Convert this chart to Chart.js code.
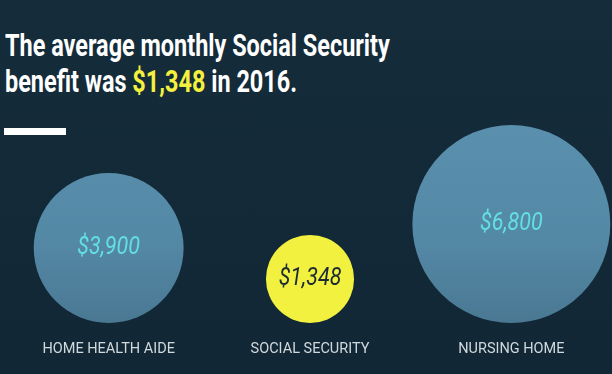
<!DOCTYPE html>
<html>
<head>
<meta charset="utf-8">
<script src="https://cdn.jsdelivr.net/npm/chart.js@4"></script>
<style>
  html, body { margin: 0; padding: 0; }
  body {
    width: 612px; height: 374px; overflow: hidden; position: relative;
    background: linear-gradient(#152c3b, #112735);
  }
  .headline {
    position: absolute; left: 5px; top: 28px;
    font-family: Roboto, "Liberation Sans", sans-serif;
    font-weight: bold; font-size: 31px; line-height: 36px;
    color: #ffffff; white-space: nowrap;
    transform-origin: 0 0; transform: scaleX(0.8);
  }
  .headline .hl { color: #f4f13e; }
  .rule { position: absolute; left: 4px; top: 128px; width: 62px; height: 7px; background: #ffffff; }
  #wrap { position: absolute; left: 0; top: 0; width: 612px; height: 374px; }
</style>
</head>
<body>
<div class="headline" id="headline">The average monthly Social Security<br>benefit was <span class="hl">$1,348</span> in 2016.</div>
<div class="rule"></div>
<div id="wrap"><canvas id="bubbleChart"></canvas></div>
<script>
// Monthly cost comparison
const categories = ['HOME HEALTH AIDE', 'SOCIAL SECURITY', 'NURSING HOME'];
const monthlyCost = [3900, 1348, 6800];
const valueLabels = ['$3,900', '$1,348', '$6,800'];

const plotTop = 110;
const plotHeight = 213;   // y scale runs in pixel units so bubbles sit on one baseline
const radiusFor = v => 1.2 * Math.sqrt(v);

const fillColors = ['blue', 'yellow', 'blue'];
const textColors = ['#63dfe0', '#1c2b33', '#63dfe0'];

// squeeze the headline to the condensed width of the original
const hl = document.getElementById('headline');
hl.style.transform = 'scaleX(' + (385 / hl.scrollWidth) + ')';

// Draw dollar amounts in the middle of each circle
const valueLabelPlugin = {
    id: 'valueLabels',
    afterDatasetsDraw(chart) {
        const ctx = chart.ctx;
        const meta = chart.getDatasetMeta(0);
        ctx.font = 'italic 25px Roboto, "Liberation Sans", sans-serif';
        ctx.textAlign = 'center';
        ctx.textBaseline = 'middle';
        meta.data.forEach((el, i) => {
            ctx.save();
            ctx.translate(el.x, el.y);
            ctx.scale(0.86, 1);
            ctx.fillStyle = textColors[i];
            ctx.fillText(valueLabels[i], 0, 0);
            ctx.restore();
        });
    }
};

const ctx = document.getElementById('bubbleChart').getContext('2d');
new Chart(ctx, {
    type: 'bubble',
    data: {
        labels: categories,
        datasets: [{
            data: monthlyCost.map((v, i) => ({ x: categories[i], y: radiusFor(v), r: radiusFor(v) })),
            backgroundColor: function(c) {
                const i = c.dataIndex;
                if (fillColors[i] === 'yellow') return '#f3f13f';
                const area = c.chart.chartArea;
                if (!area) return '#5689a6';
                const g = c.chart.ctx.createLinearGradient(0, area.top, 0, area.bottom);
                g.addColorStop(0, '#5b90ae');
                g.addColorStop(0.6, '#5489a6');
                g.addColorStop(1, '#4a7893');
                return g;
            },
            borderWidth: 0,
            hoverRadius: 0,
            clip: false
        }]
    },
    options: {
        responsive: true,
        maintainAspectRatio: false,
        animation: false,
        layout: { autoPadding: false, padding: { top: plotTop, bottom: 1, left: 8, right: 0 } },
        scales: {
            x: {
                type: 'category',
                offset: true,
                grid: { display: false },
                border: { display: false },
                ticks: {
                    color: '#d2d9dd',
                    padding: 10,
                    maxRotation: 0,
                    autoSkip: false,
                    font: { family: 'Roboto, "Liberation Sans", sans-serif', size: 14.5 }
                },
                afterFit(scale) { scale.height = 50; }
            },
            y: {
                display: false,
                min: 0,
                max: plotHeight
            }
        },
        plugins: {
            legend: { display: false },
            tooltip: { enabled: false }
        }
    },
    plugins: [valueLabelPlugin]
});
</script>
</body>
</html>
